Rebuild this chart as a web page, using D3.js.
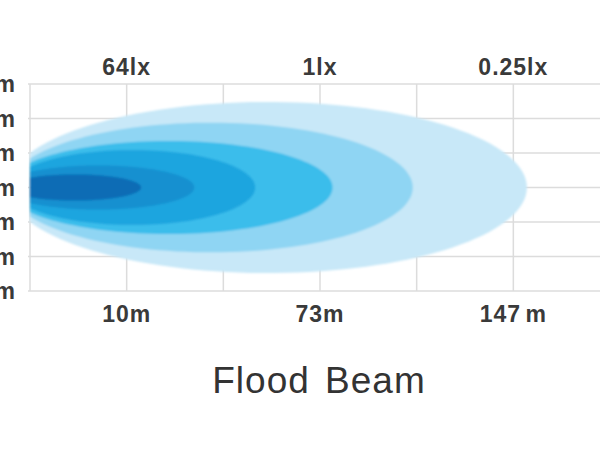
<!DOCTYPE html>
<html>
<head>
<meta charset="utf-8">
<script src="https://cdn.jsdelivr.net/npm/d3@7"></script>
<style>
  body { margin: 0; background: #fff; }
  svg { display: block; }
</style>
</head>
<body>
<div id="chart"></div>
<script>
// grid: columns 0..6, rows -3..3 (centre line = beam axis)
var gridCols = [0, 1, 2, 3, 4, 5, 6];
var gridRows = [-3, -2, -1, 0, 1, 2, 3];

// labels
var labelCols = [1, 3, 5];
var luxLabels = ["64lx", "1lx", "0.25lx"];
var distLabels = ["10m", "73m", "147 m"];
var sideLabels = ["3m", "2m", "1m", "0m", "1m", "2m", "3m"];
var title = "Flood Beam";

// beam contours, outer to inner (grid units)
var reach     = [5.14, 3.96, 3.13, 2.33, 1.70, 1.15];
var halfWidth = [2.48, 1.88, 1.35, 1.09, 0.64, 0.38];
var startHalf = [1.00, 0.84, 0.72, 0.60, 0.45, 0.28];
var colors    = ["#c8e8f8", "#8fd5f3", "#3bbdeb", "#1fa5df", "#1590d0", "#0a6cb5"];

var width = 600, height = 453;

var x = d3.scaleLinear().domain([0, 6]).range([30, 610]);
var y = d3.scaleLinear().domain([3, -3]).range([84, 291]);

var svg = d3.select("#chart")
            .append("svg")
            .attr("width", width)
            .attr("height", height);

var defs = svg.append("defs");
defs.append("filter")
    .attr("id", "soft")
  .append("feGaussianBlur")
    .attr("stdDeviation", 0.8);

// grid
var grid = svg.append("g").attr("class", "grid");
grid.selectAll("line.h")
    .data(gridRows)
  .enter().append("line")
    .attr("class", "h")
    .attr("x1", x(0) - 2)
    .attr("x2", width)
    .attr("y1", d => y(d))
    .attr("y2", d => y(d))
    .style("stroke", "#dcdcdc")
    .style("stroke-width", 1.5);

grid.selectAll("line.v")
    .data(gridCols)
  .enter().append("line")
    .attr("class", "v")
    .attr("x1", d => x(d))
    .attr("x2", d => x(d))
    .attr("y1", y(3))
    .attr("y2", y(-3))
    .style("stroke", "#dcdcdc")
    .style("stroke-width", 1.5);

// beam shapes: ellipse cut at the lamp (x = 0)
function beamPoints(i) {
  var H = halfWidth[i], h0 = startHalf[i], R = reach[i];
  var k = Math.sqrt(1 - (h0 / H) * (h0 / H));
  var c = R * k / (1 + k), r = R / (1 + k);
  var tMax = Math.acos(-k);
  var pts = [];
  d3.range(0, 61).forEach(function(j) {
    var t = tMax - tMax * j / 60;
    pts.push([c + r * Math.cos(t), H * Math.sin(t)]);
  });
  d3.range(1, 61).forEach(function(j) {
    var t = tMax * j / 60;
    pts.push([c + r * Math.cos(t), -H * Math.sin(t)]);
  });
  return pts;
}

var line = d3.line()
             .x(d => x(d[0]))
             .y(d => y(d[1]))
             .curve(d3.curveLinearClosed);

svg.append("g")
    .attr("class", "beam")
    .attr("filter", "url(#soft)")
  .selectAll("path")
    .data(reach.map((d, i) => i))
  .enter().append("path")
    .attr("d", i => line(beamPoints(i)))
    .style("fill", i => colors[i]);

// text
var font = "'Liberation Sans', Arial, sans-serif";

svg.append("g").selectAll("text")
    .data(luxLabels)
  .enter().append("text")
    .attr("x", (d, i) => x(labelCols[i]))
    .attr("y", 75)
    .attr("text-anchor", "middle")
    .style("font-family", font)
    .style("font-size", "23px")
    .style("font-weight", "bold")
    .style("letter-spacing", "1px")
    .style("fill", "#3a3a3a")
    .text(d => d);

svg.append("g").selectAll("text")
    .data(distLabels)
  .enter().append("text")
    .attr("x", (d, i) => x(labelCols[i]))
    .attr("y", 322)
    .attr("text-anchor", "middle")
    .style("font-family", font)
    .style("font-size", "23px")
    .style("font-weight", "bold")
    .style("letter-spacing", "1px")
    .style("word-spacing", "-3px")
    .style("fill", "#3a3a3a")
    .text(d => d);

svg.append("g").selectAll("text")
    .data(sideLabels)
  .enter().append("text")
    .attr("x", 15)
    .attr("y", (d, i) => y(gridRows[gridRows.length - 1 - i]) + 8)
    .attr("text-anchor", "end")
    .style("font-family", font)
    .style("font-size", "23px")
    .style("font-weight", "bold")
    .style("fill", "#3a3a3a")
    .text(d => d);

svg.append("text")
    .attr("x", 319)
    .attr("y", 393)
    .attr("text-anchor", "middle")
    .style("font-family", font)
    .style("font-size", "37px")
    .style("letter-spacing", "1px")
    .style("word-spacing", "4px")
    .style("fill", "#333")
    .text(title);
</script>
</body>
</html>
